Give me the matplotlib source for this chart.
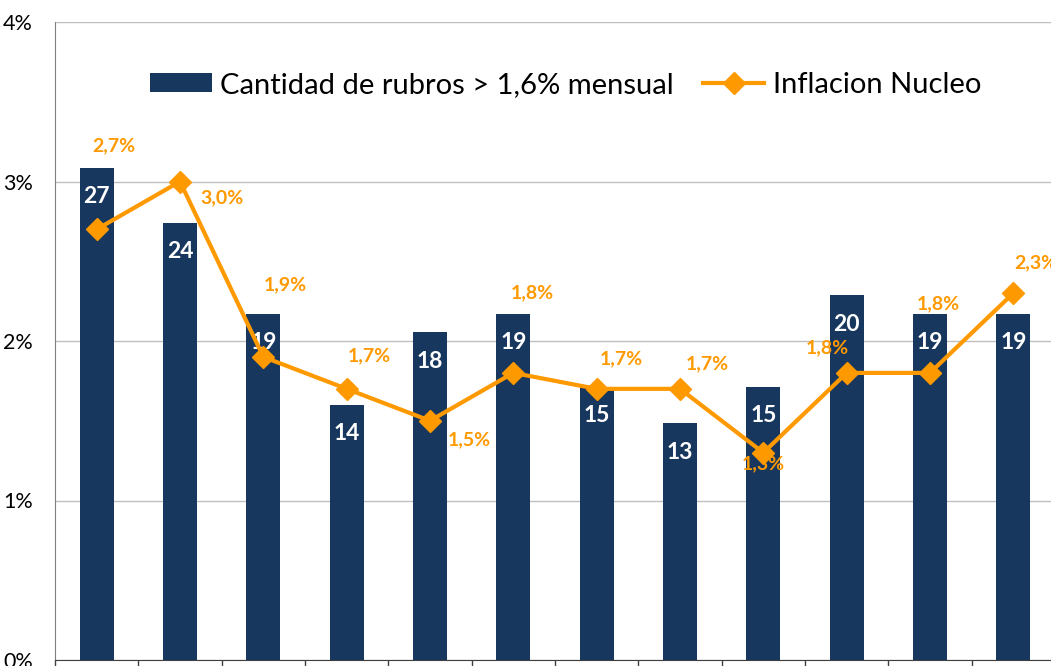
import numpy as np
import matplotlib.pyplot as plt
from matplotlib.ticker import FuncFormatter

# data
rubros = [27, 24, 19, 14, 18, 19, 15, 13, 15, 20, 19, 19]
nucleo = [2.7, 3.0, 1.9, 1.7, 1.5, 1.8, 1.7, 1.7, 1.3, 1.8, 1.8, 2.3]
y_ticks = [0, 1, 2, 3, 4]

bar_label = "Cantidad de rubros > 1,6% mensual"
line_label = "Inflacion Nucleo"

# label offsets (points) for the orange data labels
label_offsets = [(12, 60), (30, -12), (16, 52), (16, 24), (28, -14), (14, 58),
                 (18, 22), (20, 18), (0, -8), (-14, 18), (6, 50), (16, 22)]

BLUE = "#17375E"
ORANGE = "#FF9900"
plt.rcParams["font.family"] = ["Lato", "DejaVu Sans"]

fig = plt.figure(figsize=(10.51, 6.66), dpi=100)
ax = fig.add_axes([55 / 1051, 6 / 666, 1000 / 1051, 638 / 666])
x = np.arange(len(rubros))

ax.set_xlim(-0.5, len(rubros) - 0.5)
ax.set_ylim(0, 4)
ax.set_yticks(y_ticks)
ax.yaxis.set_major_formatter(FuncFormatter(lambda v, p: f"{v:.0f}%"))
ax.tick_params(axis="y", length=0, pad=16, labelsize=15.5)
ax.grid(True, axis="y", color="#BFBFBF", linewidth=1)
ax.set_axisbelow(True)
ax.set_xticks(np.arange(-0.5, len(rubros), 1.0))
ax.set_xticklabels([])
ax.tick_params(axis="x", length=8, width=1, color="#404040", direction="out")
for s in ["top", "right"]:
    ax.spines[s].set_visible(False)
ax.spines["left"].set_color("#808080")
ax.spines["bottom"].set_color("#404040")

# bars on hidden count axis
ax2 = ax.twinx()
ax2.set_ylim(0, 35)
ax2.axis("off")
bars = ax2.bar(x, rubros, width=0.41, color=BLUE, label=bar_label)
for xi, v in zip(x, rubros):
    ax2.annotate(str(v), (xi, v), xytext=(0, -21), textcoords="offset points",
                 ha="center", va="center", color="white", fontsize=16.5, fontweight="bold")

# line on hidden percent axis
ax3 = ax.twinx()
ax3.set_ylim(0, 4)
ax3.axis("off")
line, = ax3.plot(x, nucleo, color=ORANGE, linewidth=3, marker="D", markersize=11,
                 label=line_label)
for xi, v, off in zip(x, nucleo, label_offsets):
    ax3.annotate(f"{v:.1f}%".replace(".", ","), (xi, v), xytext=off,
                 textcoords="offset points", ha="center", va="center",
                 color=ORANGE, fontsize=14, fontweight="bold", annotation_clip=False)

fig.legend([bars, line], [bar_label, line_label], ncol=2, frameon=False,
           loc="center", bbox_to_anchor=(566 / 1051, 1 - 85 / 666),
           fontsize=21, handlelength=2.1, handleheight=0.65, columnspacing=1.0,
           handletextpad=0.3)

fig.savefig("out.png", dpi=100)
